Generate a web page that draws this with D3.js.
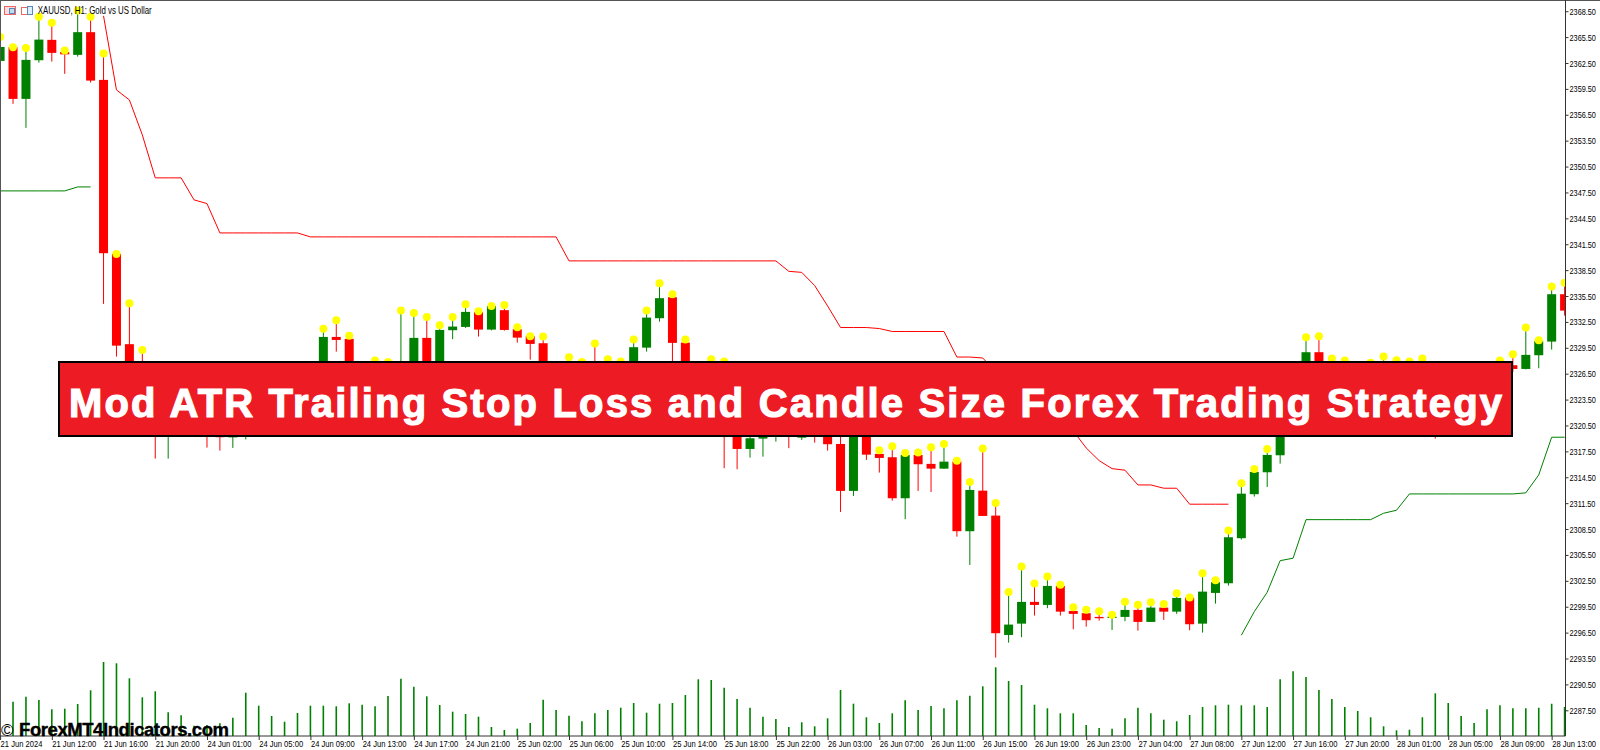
<!DOCTYPE html>
<html>
<head>
<meta charset="utf-8">
<script src="https://cdnjs.cloudflare.com/ajax/libs/d3/7.8.5/d3.min.js"></script>
<style>
  html, body { margin: 0; padding: 0; background: #fff; overflow: hidden; }
  svg { display: block; }
</style>
</head>
<body>
<div id="chart"></div>
<script>
// XAUUSD H1 candles (bars hidden by the banner are estimates)
var open_price = [
  2362.74,2364.33,2358.34,2362.82,2365.18,2363.78,2363.44,2366.07,2360.54,2340.38,
  2329.92,2326.94,2324.04,2320.56,2324.04,2321.38,2323.46,2321.14,2319.12,2319.99,
  2322.88,2324.85,2323.46,2324.04,2323.69,2325.20,2330.76,2330.53,2326.36,2325.20,
  2326.94,2324.04,2325.20,2330.65,2325.20,2331.54,2331.92,2333.62,2331.61,2333.86,
  2331.65,2330.84,2330.03,2326.01,2324.62,2326.24,2326.71,2325.55,2325.78,2326.01,
  2329.52,2332.93,2335.36,2330.10,2325.78,2326.36,2324.04,2321.72,2317.78,2318.98,
  2319.99,2321.72,2319.09,2322.30,2321.14,2318.36,2312.92,2319.99,2317.21,2316.82,
  2312.07,2317.09,2316.05,2315.50,2316.31,2308.25,2312.95,2310.06,2296.23,2297.54,
  2300.06,2299.71,2301.91,2299.01,2298.75,2298.32,2298.20,2298.32,2299.13,2297.74,
  2299.40,2298.93,2300.56,2297.54,2301.10,2302.22,2307.44,2312.54,2315.08,2317.05,
  2319.99,2324.04,2328.99,2326.94,2326.71,2324.39,2324.62,2324.85,2326.36,2324.39,
  2326.01,2324.04,2324.04,2322.88,2323.46,2324.04,2326.94,2327.48,2327.05,2328.64,
  2330.22,2335.71]
var high_price = [
  2365.52,2364.33,2364.25,2367.87,2367.15,2363.94,2368.57,2367.87,2363.59,2340.38,
  2334.67,2329.26,2327.17,2326.94,2326.36,2325.78,2326.01,2324.04,2325.20,2326.36,
  2326.94,2326.71,2327.17,2327.17,2326.71,2331.72,2332.70,2330.91,2327.52,2328.02,
  2327.86,2333.81,2333.54,2333.08,2332.12,2333.08,2334.55,2333.74,2334.35,2334.47,
  2331.89,2330.84,2330.80,2327.52,2328.41,2327.86,2329.99,2328.18,2327.90,2330.45,
  2333.81,2336.98,2335.71,2330.45,2327.52,2328.18,2327.90,2325.78,2320.56,2323.46,
  2322.88,2323.46,2323.46,2324.04,2324.04,2323.46,2322.88,2323.46,2317.63,2318.10,
  2317.32,2317.36,2317.98,2318.36,2316.40,2313.96,2317.82,2311.53,2301.21,2304.15,
  2302.18,2302.99,2302.06,2299.44,2299.16,2298.98,2298.58,2300.09,2299.74,2300.02,
  2299.82,2301.06,2300.56,2303.38,2302.57,2308.32,2313.81,2315.47,2317.78,2320.56,
  2325.78,2330.73,2330.84,2328.25,2328.02,2327.40,2327.78,2328.48,2328.06,2327.90,
  2328.25,2325.78,2325.20,2325.20,2326.01,2326.71,2328.02,2328.76,2331.84,2330.38,
  2336.59,2337.05]
var low_price = [
  2362.74,2357.76,2354.98,2362.54,2362.66,2361.24,2363.24,2360.23,2334.59,2328.48,
  2324.04,2321.72,2316.66,2316.66,2320.22,2319.99,2317.94,2317.59,2317.90,2318.89,
  2321.72,2321.38,2322.30,2322.53,2322.30,2324.04,2329.06,2324.62,2323.46,2324.04,
  2324.39,2322.88,2324.04,2324.62,2324.39,2330.50,2331.80,2330.80,2331.52,2331.49,
  2330.10,2328.13,2324.62,2322.88,2323.46,2323.69,2323.69,2324.04,2324.62,2325.20,
  2329.06,2332.53,2325.20,2324.04,2322.88,2322.30,2315.55,2315.43,2316.78,2316.89,
  2318.63,2317.87,2318.83,2318.51,2317.59,2310.48,2312.34,2316.51,2315.04,2311.79,
  2309.64,2312.92,2312.80,2315.47,2307.62,2304.34,2310.02,2293.60,2295.34,2295.97,
  2298.47,2299.33,2298.47,2296.89,2297.19,2297.89,2296.81,2297.82,2296.73,2297.74,
  2297.97,2298.67,2296.78,2296.50,2299.86,2301.95,2307.28,2312.26,2313.38,2316.08,
  2319.41,2322.88,2324.04,2322.88,2323.46,2323.23,2323.46,2323.69,2323.46,2323.23,
  2322.88,2318.98,2320.56,2321.14,2321.72,2322.88,2324.04,2326.71,2327.00,2327.13,
  2329.29,2333.23]
var close_price = [
  2364.36,2358.34,2362.86,2365.21,2363.67,2363.50,2366.07,2360.46,2340.46,2329.75,
  2326.01,2323.46,2321.14,2324.62,2321.72,2323.69,2320.56,2319.14,2321.72,2323.46,
  2325.20,2322.88,2325.78,2326.36,2325.20,2330.76,2330.41,2326.36,2325.20,2327.17,
  2325.78,2327.17,2330.65,2325.20,2331.57,2331.96,2333.66,2331.61,2334.35,2331.57,
  2330.68,2329.95,2326.01,2324.39,2326.36,2324.85,2325.20,2326.71,2326.94,2329.57,
  2333.00,2335.25,2330.07,2325.20,2324.04,2324.04,2321.14,2317.78,2319.02,2320.56,
  2321.72,2319.99,2321.14,2320.56,2318.33,2312.92,2321.14,2317.12,2316.74,2312.07,
  2317.09,2316.01,2315.50,2316.31,2308.25,2313.03,2310.02,2296.43,2297.43,2300.06,
  2299.71,2301.91,2298.93,2298.67,2297.94,2298.17,2298.35,2299.13,2297.74,2299.40,
  2298.93,2300.52,2297.47,2301.25,2302.34,2307.55,2312.60,2315.12,2317.09,2319.99,
  2324.04,2328.99,2325.20,2324.39,2324.62,2326.01,2326.36,2326.71,2324.85,2326.01,
  2324.04,2321.72,2322.30,2324.39,2324.85,2325.55,2325.20,2327.05,2328.68,2330.26,
  2335.71,2333.81]

// volume histogram at the bottom
var volume = [
  30,34.3,39.3,36,26.7,27.3,32,45.7,74,72.7,
  57.7,38.7,44.7,23.7,20.7,10.3,11,12.7,18.3,43.3,
  30.3,20,14.3,23,30.3,30.3,29.7,32.7,31.3,29.7,
  40,57.3,49.3,39.7,31,24.3,22,19.3,9,6,
  7.3,13,36.3,26,20.3,14.7,22.7,26,28.3,33,
  23.3,32.3,33,41,56.7,56,48.3,37,28.3,19.3,
  17,9,13.7,9.7,17.7,46,32.3,18.7,13,22.7,
  35.7,26,30,27.7,35.7,40.3,49.7,68.7,55,51,
  31.3,27.7,22.7,22.7,11,8,7.3,17.7,28.3,22.7,
  16.3,14.7,21,29,30.7,31.3,30.7,30.7,29,56.7,
  64.7,59,46,37,29,25,18.7,9.7,5.7,6.3,
  18.7,42.7,33,20,13,26.7,30.7,27.7,27.7,28.3,
  32.3,29]

// ATR trailing stop, red part above price
var stop_red = [
  null,null,null,null,null,null,null,null,2367.96,2359.38,
  2358.22,2354.17,2349.19,2349.19,2349.19,2346.64,2346.21,2342.81,2342.81,2342.81,
  2342.81,2342.81,2342.81,2342.81,2342.35,2342.35,2342.35,2342.35,2342.35,2342.35,
  2342.35,2342.35,2342.35,2342.35,2342.35,2342.35,2342.35,2342.35,2342.35,2342.35,
  2342.35,2342.35,2342.35,2342.35,2339.57,2339.57,2339.57,2339.57,2339.57,2339.57,
  2339.57,2339.57,2339.57,2339.57,2339.57,2339.57,2339.57,2339.57,2339.57,2339.57,
  2339.57,2338.36,2338.24,2336.71,2334.35,2331.85,2331.85,2331.85,2331.73,2331.39,
  2331.39,2331.39,2331.39,2331.39,2328.43,2328.43,2328.32,2326.71,2325.20,2323.69,
  2322.88,2321.72,2320.91,2319.87,2317.90,2316.43,2315.50,2315.32,2313.61,2313.61,
  2313.23,2313.23,2311.38,2311.38,2311.38,2311.38]
// and the green parts below price
var stop_green_a = [2347.68,2347.68,2347.68,2347.68,2347.68,2347.68,2348.14,2348.14]
var stop_green_b_start = 96
var stop_green_b = [
  2296.20,2298.93,2301.18,2304.84,2305.12,2309.59,2309.59,2309.59,2309.59,2309.59,
  2309.59,2310.33,2310.68,2312.57,2312.57,2312.57,2312.57,2312.57,2312.57,2312.57,
  2312.57,2312.57,2312.69,2314.77,2319.14,2319.14]

// axis labels
var price_ticks = [
  2368.5,2365.5,2362.5,2359.5,2356.5,2353.5,2350.5,2347.5,2344.5,2341.5,
  2338.5,2335.5,2332.5,2329.5,2326.5,2323.5,2320.5,2317.5,2314.5,2311.5,
  2308.5,2305.5,2302.5,2299.5,2296.5,2293.5,2290.5,2287.5]
var time_ticks = [0,4,8,12,16,20,24,28,32,36,40,44,48,52,56,60,64,68,72,76,80,84,88,92,96,100,104,108,112,116,120]
var time_labels = [
  "21 Jun 2024","21 Jun 12:00","21 Jun 16:00","21 Jun 20:00",
  "24 Jun 01:00","24 Jun 05:00","24 Jun 09:00","24 Jun 13:00","24 Jun 17:00","24 Jun 21:00",
  "25 Jun 02:00","25 Jun 06:00","25 Jun 10:00","25 Jun 14:00","25 Jun 18:00","25 Jun 22:00",
  "26 Jun 03:00","26 Jun 07:00","26 Jun 11:00","26 Jun 15:00","26 Jun 19:00","26 Jun 23:00",
  "27 Jun 04:00","27 Jun 08:00","27 Jun 12:00","27 Jun 16:00","27 Jun 20:00",
  "28 Jun 01:00","28 Jun 05:00","28 Jun 09:00","28 Jun 13:00"]

var banner_title = "Mod ATR Trailing Stop Loss and Candle Size Forex Trading Strategy"

// set dimensions
var width = 1600
var height = 750
var plot_right = 1565.5
var plot_bottom = 736

var svg = d3.select("#chart")
  .append("svg")
  .attr("width", width)
  .attr("height", height)
  .style("font-family", "'Liberation Sans', sans-serif");

var x = d3.scaleLinear().domain([0, 121]).range([0.1, 1564.6]);
var y = d3.scaleLinear().domain([2287.5, 2368.5]).range([710.3, 11.2]);
var y_vol = d3.scaleLinear().domain([0, 100]).range([plot_bottom, plot_bottom - 100]);

svg.append("clipPath")
    .attr("id", "plot_clip")
  .append("rect")
    .attr("x", 0)
    .attr("y", 0)
    .attr("width", plot_right)
    .attr("height", plot_bottom);

var plot = svg.append("g").attr("clip-path", "url(#plot_clip)");

// volume bars
plot.append("g")
  .selectAll("line")
  .data(volume)
  .enter()
  .append("line")
    .attr("x1", function(d, i) { return x(i); })
    .attr("x2", function(d, i) { return x(i); })
    .attr("y1", y_vol(0))
    .attr("y2", function(d) { return y_vol(d); })
    .attr("stroke", "#008000")
    .attr("stroke-width", 1.6);

// header text, the dots run over it
svg.append("text")
  .attr("x", 37.7)
  .attr("y", 14)
  .attr("font-size", "10.5px")
  .attr("textLength", 114)
  .attr("lengthAdjust", "spacingAndGlyphs")
  .attr("fill", "#000")
  .text("XAUUSD, H1:  Gold vs US Dollar");

// little chart icons in the corner
var icon = svg.append("g");
icon.append("rect").attr("x", 4.5).attr("y", 6.5).attr("width", 11).attr("height", 8).attr("fill", "#fdd").attr("stroke", "#e66");
icon.append("rect").attr("x", 9.5).attr("y", 8.5).attr("width", 5).attr("height", 5).attr("fill", "#bde").attr("stroke", "#58b");
icon.append("rect").attr("x", 21.5).attr("y", 7.5).attr("width", 6).attr("height", 7).attr("fill", "#fff").attr("stroke", "#e66");
icon.append("rect").attr("x", 27.5).attr("y", 6.5).attr("width", 5).attr("height", 8).attr("fill", "#def").attr("stroke", "#58b");

// trailing stop lines
var stop_line = d3.line()
  .defined(function(d) { return d != null; })
  .x(function(d, i) { return x(i); })
  .y(function(d) { return y(d); });

plot.append("path")
  .attr("d", stop_line(stop_red))
  .attr("fill", "none")
  .attr("stroke", "#ff0000")
  .attr("stroke-width", 1);

plot.append("path")
  .attr("d", stop_line(stop_green_a))
  .attr("fill", "none")
  .attr("stroke", "#008000")
  .attr("stroke-width", 1);

plot.append("path")
  .attr("d", d3.line()
    .x(function(d, i) { return x(i + stop_green_b_start); })
    .y(function(d) { return y(d); })(stop_green_b))
  .attr("fill", "none")
  .attr("stroke", "#008000")
  .attr("stroke-width", 1);

// candles
function candle_color(i) {
  return close_price[i] >= open_price[i] ? "#008000" : "#ff0000";
}

plot.append("g")
  .selectAll("line")
  .data(high_price)
  .enter()
  .append("line")
    .attr("x1", function(d, i) { return x(i); })
    .attr("x2", function(d, i) { return x(i); })
    .attr("y1", function(d) { return y(d); })
    .attr("y2", function(d, i) { return y(low_price[i]); })
    .attr("stroke", function(d, i) { return candle_color(i); })
    .attr("stroke-width", 1);

plot.append("g")
  .selectAll("rect")
  .data(open_price)
  .enter()
  .append("rect")
    .attr("x", function(d, i) { return x(i) - 4.5; })
    .attr("y", function(d, i) { return y(Math.max(d, close_price[i])); })
    .attr("width", 9)
    .attr("height", function(d, i) { return Math.max(1, Math.abs(y(d) - y(close_price[i]))); })
    .attr("fill", function(d, i) { return candle_color(i); });

// yellow dots on the highs
plot.append("g")
  .selectAll("circle")
  .data(high_price)
  .enter()
  .append("circle")
    .attr("cx", function(d, i) { return x(i); })
    .attr("cy", function(d) { return y(d); })
    .attr("r", 4)
    .attr("fill", "#ffff00");

// frame
svg.append("rect").attr("x", 0).attr("y", 0).attr("width", width).attr("height", 1).attr("fill", "#555");
svg.append("rect").attr("x", 0).attr("y", 0).attr("width", 1).attr("height", plot_bottom).attr("fill", "#555");

// price axis
var axis_y = svg.append("g")
  .attr("transform", "translate(" + plot_right + ",0)")
  .call(d3.axisRight(y).tickValues(price_ticks).tickSize(3).tickSizeOuter(0).tickPadding(1).tickFormat(d3.format(".2f")));

// time axis, labels start at the tick
var axis_x = svg.append("g")
  .attr("transform", "translate(0," + plot_bottom + ")")
  .call(d3.axisBottom(x).tickValues(time_ticks).tickSize(4).tickSizeOuter(0)
    .tickFormat(function(d, i) { return time_labels[i]; }));

axis_y.select(".domain").attr("d", "M0,0V" + plot_bottom).attr("stroke", "#333");
axis_x.select(".domain").attr("d", "M0,0H" + plot_right).attr("stroke", "#333");
svg.selectAll(".tick line").attr("stroke", "#333");

// MT4 labels are narrow, squeeze them sideways
axis_y.selectAll("text")
  .attr("font-family", "'Liberation Sans', sans-serif")
  .attr("font-size", "9.5px")
  .attr("fill", "#000")
  .attr("x", 0)
  .attr("transform", "translate(4,0) scale(0.77,1)");

axis_x.selectAll("text")
  .attr("font-family", "'Liberation Sans', sans-serif")
  .attr("font-size", "9.5px")
  .attr("fill", "#000")
  .attr("text-anchor", "start")
  .attr("y", 0)
  .attr("dy", 11.5)
  .attr("transform", "scale(0.8,1)");

// title banner on top of everything
svg.append("rect")
  .attr("x", 59)
  .attr("y", 362)
  .attr("width", 1453)
  .attr("height", 74)
  .attr("fill", "#ed1c24")
  .attr("stroke", "#000")
  .attr("stroke-width", 2);

svg.append("text")
  .attr("x", 69)
  .attr("y", 417)
  .attr("font-size", "40px")
  .attr("font-weight", "bold")
  .attr("fill", "#fff")
  .attr("stroke", "#fff")
  .attr("stroke-width", 1.2)
  .attr("textLength", 1433)
  .attr("lengthAdjust", "spacing")
  .text(banner_title);

// watermark
svg.append("text")
  .attr("x", 1)
  .attr("y", 736)
  .attr("font-size", "17px")
  .attr("fill", "#000")
  .text("©");

svg.append("text")
  .attr("x", 19)
  .attr("y", 736)
  .attr("font-size", "18.5px")
  .attr("font-weight", "bold")
  .attr("fill", "#000")
  .attr("stroke", "#000")
  .attr("stroke-width", 0.4)
  .attr("textLength", 210)
  .attr("lengthAdjust", "spacing")
  .text("ForexMT4Indicators.com");
</script>
</body>
</html>
